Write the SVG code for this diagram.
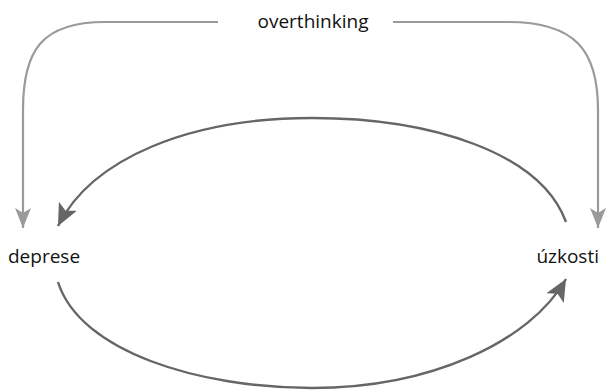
<svg xmlns="http://www.w3.org/2000/svg" width="608" height="390" viewBox="0 0 608 390">
<style>
text{font-family:"Open Sans","Noto Sans","Liberation Sans",sans-serif;font-size:19px;fill:#111}
.g{fill:none;stroke:#9a9a9a;stroke-width:2.2}
.d{fill:none;stroke:#666;stroke-width:2.4}
</style>
<defs>
<marker id="ag" markerUnits="userSpaceOnUse" markerWidth="24" markerHeight="20" refX="20" refY="8" orient="auto" viewBox="0 0 24 20">
<path d="M0,0 L20,8 L0,16 L5,8 Z" fill="#9a9a9a"/>
</marker>
<marker id="ad" markerUnits="userSpaceOnUse" markerWidth="26" markerHeight="22" refX="22" refY="10" orient="auto" viewBox="0 0 26 22">
<path d="M0,0 L22,10 L0,20 L5,10 Z" fill="#666"/>
</marker>
</defs>
<g id="connectors">
<path class="g" d="M218,22 L105,22 C42,22 23,50 23,110 L23,228" marker-end="url(#ag)"/>
<path class="g" d="M393,22 L508,22 C575,22 598,50 598,110 L598,228" marker-end="url(#ag)"/>
<path class="d" d="M566,222 C540,152 430,118 312,118 C190,118 92,158 58,226" marker-end="url(#ad)"/>
<path class="d" d="M58,282 C80,352 200,388 312,388 C430,388 530,342 566,279" marker-end="url(#ad)"/>
</g>
<g id="overthinking"><text x="313" y="28" text-anchor="middle">overthinking</text></g>
<g id="deprese"><text x="8" y="263">deprese</text></g>
<g id="uzkosti"><text x="599" y="263" text-anchor="end">úzkosti</text></g>
</svg>
